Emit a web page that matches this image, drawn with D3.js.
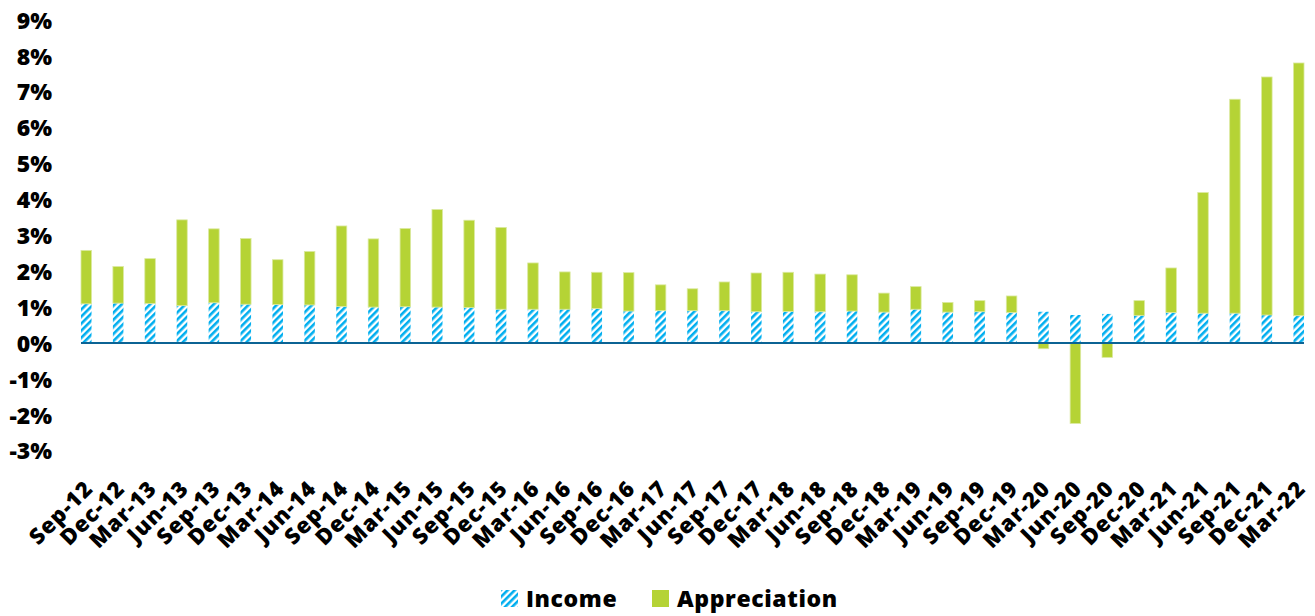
<!DOCTYPE html>
<html>
<head>
<meta charset="utf-8">
<script src="https://cdn.jsdelivr.net/npm/d3@7"></script>
<style>
  html, body { margin: 0; padding: 0; background: #fff; }
  svg { display: block; }
  text { font-family: "Open Sans", "DejaVu Sans", sans-serif; font-weight: 800; fill: #000; }
</style>
</head>
<body>
<svg id="chart" width="1315" height="616"></svg>
<script>
const categories = ["Sep-12","Dec-12","Mar-13","Jun-13","Sep-13","Dec-13","Mar-14","Jun-14","Sep-14","Dec-14",
  "Mar-15","Jun-15","Sep-15","Dec-15","Mar-16","Jun-16","Sep-16","Dec-16","Mar-17","Jun-17",
  "Sep-17","Dec-17","Mar-18","Jun-18","Sep-18","Dec-18","Mar-19","Jun-19","Sep-19","Dec-19",
  "Mar-20","Jun-20","Sep-20","Dec-20","Mar-21","Jun-21","Sep-21","Dec-21","Mar-22"];
const income = [1.09,1.11,1.10,1.04,1.12,1.08,1.07,1.06,1.02,1.00,
  1.01,1.00,0.99,0.94,0.94,0.94,0.96,0.89,0.90,0.90,
  0.90,0.87,0.88,0.87,0.89,0.86,0.94,0.86,0.87,0.85,
  0.87,0.78,0.81,0.77,0.85,0.83,0.83,0.78,0.76];
const appreciation = [1.49,1.02,1.25,2.39,2.06,1.83,1.25,1.49,2.24,1.90,
  2.18,2.72,2.43,2.28,1.29,1.04,1.01,1.07,0.72,0.61,
  0.80,1.08,1.09,1.05,1.01,0.53,0.63,0.27,0.31,0.46,
  -0.16,-2.24,-0.40,0.41,1.24,3.36,5.96,6.63,7.04];
const yTicks = [-3,-2,-1,0,1,2,3,4,5,6,7,8,9];
const seriesNames = ["Income","Appreciation"];

const svg = d3.select("#chart");
const defs = svg.append("defs");
const pat = defs.append("pattern")
  .attr("id","hatch").attr("patternUnits","userSpaceOnUse")
  .attr("width",5).attr("height",5)
  .attr("patternTransform","rotate(45)");
pat.append("rect").attr("width",5).attr("height",5).attr("fill","#ffffff");
pat.append("rect").attr("x",0).attr("y",0).attr("width",2.6).attr("height",5).attr("fill","#00aeef");

const x = d3.scaleBand().domain(categories).range([70.3, 1314.7]).paddingInner(0.67).paddingOuter(0.335);
const y = d3.scaleLinear().domain([-3, 9]).range([450.7, 19.9]);

// y axis labels
const yAxis = d3.axisLeft(y).tickValues(yTicks).tickFormat(d => d + "%").tickSize(0).tickPadding(0);
const gy = svg.append("g").attr("transform","translate(52,0)").call(yAxis);
gy.select(".domain").remove();
gy.selectAll("text").style("font-size","23px").attr("dy","0.36em").attr("fill","#000");

// bars
const data = categories.map((c,i) => ({c, inc: income[i], app: appreciation[i]}));
const bw = x.bandwidth();
svg.append("g").selectAll("rect.inc").data(data).join("rect")
  .attr("class","inc")
  .attr("x", d => x(d.c)).attr("width", bw)
  .attr("y", d => y(d.inc)).attr("height", d => y(0) - y(d.inc))
  .attr("fill","url(#hatch)");
svg.append("g").selectAll("rect.app").data(data).join("rect")
  .attr("class","app")
  .attr("x", d => x(d.c)).attr("width", bw)
  .attr("y", d => d.app >= 0 ? y(d.inc + d.app) : y(0))
  .attr("height", d => d.app >= 0 ? y(d.inc) - y(d.inc + d.app) : y(d.app) - y(0))
  .attr("fill","#b5d335").attr("stroke","#dbe9a0").attr("stroke-width",0.8);

// zero line
svg.append("line")
  .attr("x1", x(categories[0])).attr("x2", x(categories[categories.length-1]) + bw)
  .attr("y1", y(0)).attr("y2", y(0))
  .attr("stroke","#0b6394").attr("stroke-width",2.2);

// x axis labels
const xAxis = d3.axisBottom(x).tickSize(0).tickPadding(0);
const gx = svg.append("g").attr("transform","translate(0,478)").call(xAxis);
gx.select(".domain").remove();
gx.selectAll(".tick text")
  .style("font-size","22px")
  .style("letter-spacing","1px")
  .attr("text-anchor","end")
  .attr("dx","0").attr("dy","0").attr("y",0).attr("x",0)
  .attr("transform","translate(8,12) rotate(-45)")
  .attr("fill","#000");

// legend
const legend = svg.append("g");
const lx = [501, 652];
seriesNames.forEach((n,i) => {
  legend.append("rect").attr("x", lx[i]).attr("y", 590).attr("width",17).attr("height",17)
    .attr("fill", i === 0 ? "url(#hatch)" : "#b5d335");
  legend.append("text").attr("x", lx[i] + 25).attr("y", 607).style("font-size","23px")
    .style("letter-spacing","0.6px").text(n);
});
</script>
</body>
</html>
